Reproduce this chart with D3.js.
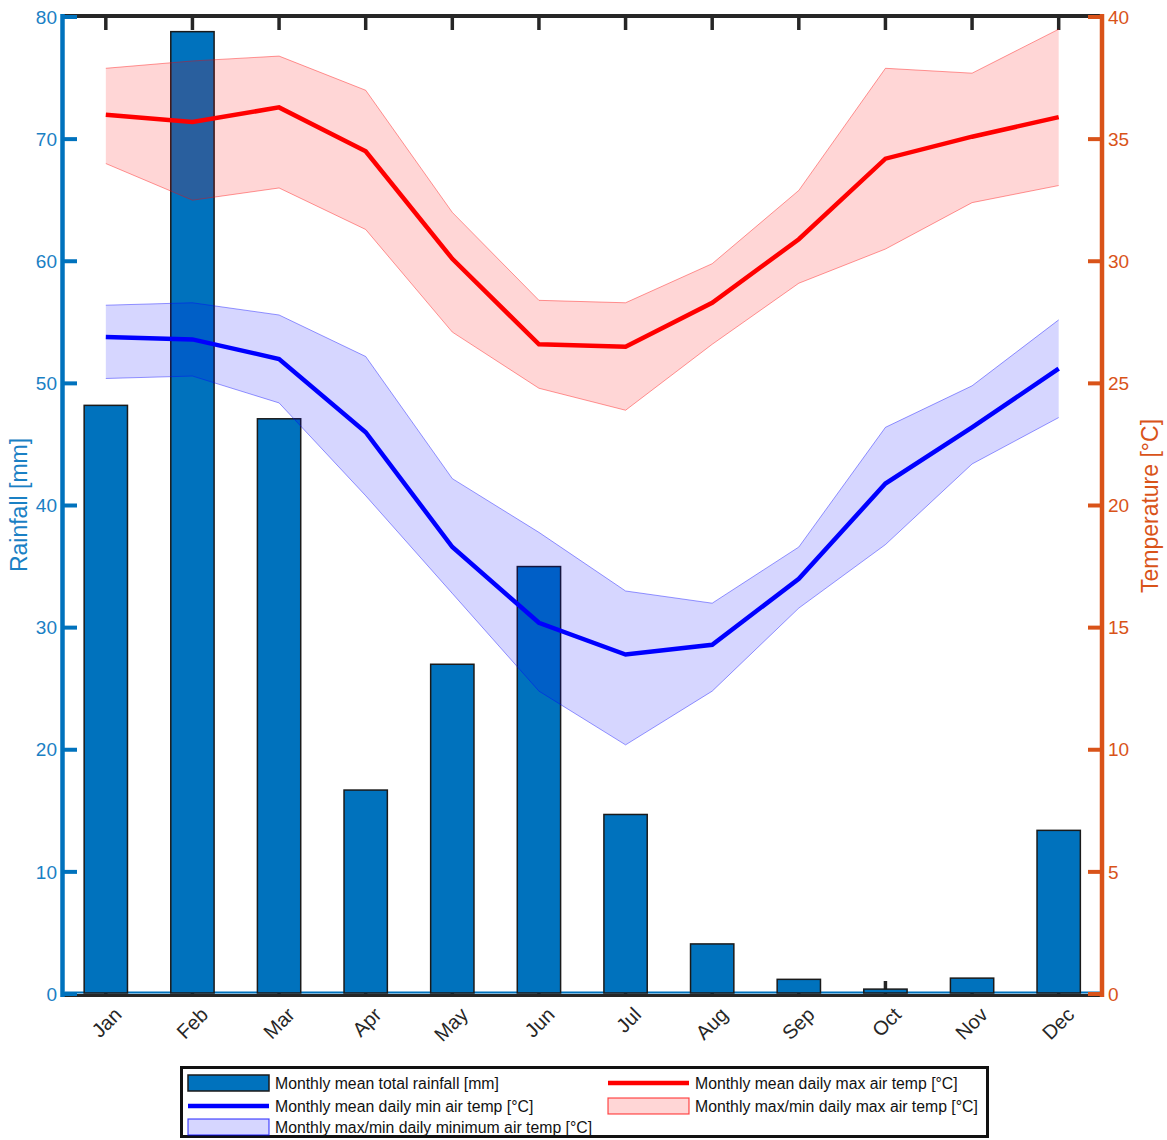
<!DOCTYPE html>
<html>
<head>
<meta charset="utf-8">
<script src="https://cdn.jsdelivr.net/npm/d3@7"></script>
<style>
  html, body { margin: 0; padding: 0; background: #fff; }
  svg { display: block; font-family: "Liberation Sans", Arial, Helvetica, sans-serif; }
</style>
</head>
<body>
<svg id="chart" width="1167" height="1140"></svg>
<script>
// Monthly climate summary: rainfall bars with daily max/min temperature bands
const months = ["Jan", "Feb", "Mar", "Apr", "May", "Jun", "Jul", "Aug", "Sep", "Oct", "Nov", "Dec"];
const rainfall = [48.2, 78.8, 47.1, 16.7, 27.0, 35.0, 14.7, 4.1, 1.2, 0.4, 1.3, 13.4];
const maxTempMean = [36.0, 35.7, 36.3, 34.5, 30.1, 26.6, 26.5, 28.3, 30.9, 34.2, 35.1, 35.9];
const maxTempHigh = [37.9, 38.2, 38.4, 37.0, 32.0, 28.4, 28.3, 29.9, 32.9, 37.9, 37.7, 39.5];
const maxTempLow  = [34.0, 32.5, 33.0, 31.3, 27.1, 24.8, 23.9, 26.6, 29.1, 30.5, 32.4, 33.1];
const minTempMean = [26.9, 26.8, 26.0, 23.0, 18.3, 15.2, 13.9, 14.3, 17.0, 20.9, 23.2, 25.6];
const minTempHigh = [28.2, 28.3, 27.8, 26.1, 21.1, 18.9, 16.5, 16.0, 18.3, 23.2, 24.9, 27.6];
const minTempLow  = [25.2, 25.3, 24.2, 20.4, 16.4, 12.4, 10.2, 12.4, 15.8, 18.4, 21.7, 23.6];
const rainTicks = [0, 10, 20, 30, 40, 50, 60, 70, 80];
const tempTicks = [0, 5, 10, 15, 20, 25, 30, 35, 40];

const legendItems = [
  { label: "Monthly mean total rainfall [mm]", kind: "bar" },
  { label: "Monthly mean daily max air temp [\u00B0C]", kind: "redLine" },
  { label: "Monthly mean daily min air temp [\u00B0C]", kind: "blueLine" },
  { label: "Monthly max/min daily max air temp [\u00B0C]", kind: "redBand" },
  { label: "Monthly max/min daily minimum air temp [\u00B0C]", kind: "blueBand" }
];

const C = {
  bar: "#0072BD",
  left: "#0072BD",
  leftText: "#1A80C4",
  right: "#D95319",
  axis: "#262626",
  red: "#FF0000",
  blue: "#0000FF"
};

const svg = d3.select("#chart");
const L = 62.5, R = 1102, T = 17, B = 994;

const x = d3.scaleLinear().domain([0.5, 12.5]).range([L, R]);
const yRain = d3.scaleLinear().domain([0, 80]).range([B, T]);
const yTemp = d3.scaleLinear().domain([0, 40]).range([B, T]);
const idx = months.map((m, i) => i + 1);

// top box edge and month ticks (drawn beneath the data)
const frame = svg.append("g");
frame.append("line").attr("x1", L).attr("x2", R).attr("y1", 16).attr("y2", 16)
  .attr("stroke", C.axis).attr("stroke-width", 4);
frame.append("line").attr("x1", L).attr("x2", R).attr("y1", 995.5).attr("y2", 995.5)
  .attr("stroke", C.axis).attr("stroke-width", 3);
frame.selectAll("line.ttick").data(idx).join("line").attr("class", "ttick")
  .attr("x1", d => x(d)).attr("x2", d => x(d)).attr("y1", 16).attr("y2", 30)
  .attr("stroke", C.axis).attr("stroke-width", 3.5);
frame.selectAll("line.btick").data(idx).join("line").attr("class", "btick")
  .attr("x1", d => x(d)).attr("x2", d => x(d)).attr("y1", 995).attr("y2", 981)
  .attr("stroke", C.axis).attr("stroke-width", 3.5);

// bar baseline
svg.append("line").attr("x1", L + 2).attr("x2", R - 2).attr("y1", 992.5).attr("y2", 992.5)
  .attr("stroke", C.bar).attr("stroke-width", 2);

// rainfall bars
const bw = (x(2) - x(1)) * 0.5;
svg.append("g").selectAll("rect").data(rainfall).join("rect")
  .attr("x", (d, i) => x(i + 1) - bw / 2)
  .attr("y", d => yRain(d))
  .attr("width", bw)
  .attr("height", d => yRain(0) - yRain(d) - 1)
  .attr("fill", C.bar)
  .attr("stroke", "#1a1a1a")
  .attr("stroke-width", 1.5);

// temperature bands
function band(hi, lo, color) {
  const area = d3.area()
    .x((d, i) => x(i + 1))
    .y0((d, i) => yTemp(lo[i]))
    .y1(d => yTemp(d));
  svg.append("path").datum(hi).attr("d", area)
    .attr("fill", color).attr("fill-opacity", 0.16);
  const edge = d3.line().x((d, i) => x(i + 1)).y(d => yTemp(d));
  [hi, lo].forEach(s => svg.append("path").datum(s).attr("d", edge)
    .attr("fill", "none").attr("stroke", color).attr("stroke-opacity", 0.4).attr("stroke-width", 1));
}
band(maxTempHigh, maxTempLow, C.red);
band(minTempHigh, minTempLow, C.blue);

// mean temperature lines
const tLine = d3.line().x((d, i) => x(i + 1)).y(d => yTemp(d));
svg.append("path").datum(maxTempMean).attr("d", tLine)
  .attr("fill", "none").attr("stroke", C.red).attr("stroke-width", 4.5);
svg.append("path").datum(minTempMean).attr("d", tLine)
  .attr("fill", "none").attr("stroke", C.blue).attr("stroke-width", 4.5);

// left axis (rainfall)
const leftAxis = svg.append("g");
leftAxis.append("line").attr("x1", L).attr("x2", L).attr("y1", 14).attr("y2", 997)
  .attr("stroke", C.left).attr("stroke-width", 4.5);
leftAxis.selectAll("line.tk").data(rainTicks).join("line").attr("class", "tk")
  .attr("x1", L).attr("x2", 77).attr("y1", d => yRain(d)).attr("y2", d => yRain(d))
  .attr("stroke", C.left).attr("stroke-width", 4);
leftAxis.selectAll("text").data(rainTicks).join("text")
  .attr("x", 57).attr("y", d => yRain(d)).attr("dy", "0.35em")
  .attr("text-anchor", "end").attr("font-size", 19).attr("fill", C.leftText)
  .text(d => d);
svg.append("text")
  .attr("transform", "translate(27,505) rotate(-90)")
  .attr("text-anchor", "middle").attr("font-size", 23).attr("fill", C.leftText)
  .text("Rainfall [mm]");

// right axis (temperature)
const rightAxis = svg.append("g");
rightAxis.append("line").attr("x1", R).attr("x2", R).attr("y1", 14).attr("y2", 997)
  .attr("stroke", C.right).attr("stroke-width", 4.5);
rightAxis.selectAll("line.tk").data(tempTicks).join("line").attr("class", "tk")
  .attr("x1", 1088).attr("x2", R).attr("y1", d => yTemp(d)).attr("y2", d => yTemp(d))
  .attr("stroke", C.right).attr("stroke-width", 4);
rightAxis.selectAll("text").data(tempTicks).join("text")
  .attr("x", 1108).attr("y", d => yTemp(d)).attr("dy", "0.35em")
  .attr("text-anchor", "start").attr("font-size", 19).attr("fill", C.right)
  .text(d => d);
svg.append("text")
  .attr("transform", "translate(1158,506) rotate(-90)")
  .attr("text-anchor", "middle").attr("font-size", 23).attr("fill", C.right)
  .text("Temperature [\u00B0C]");

// month labels
svg.append("g").selectAll("text").data(months).join("text")
  .attr("transform", (d, i) => `translate(${x(i + 1) + 12},${1011}) rotate(-45)`)
  .attr("text-anchor", "end").attr("dy", "0.35em")
  .attr("font-size", 20).attr("fill", C.axis)
  .text(d => d);

// legend
const lg = svg.append("g");
lg.append("rect").attr("x", 181.5).attr("y", 1067.5).attr("width", 806).attr("height", 69)
  .attr("fill", "#fff").attr("stroke", "#111").attr("stroke-width", 3);
const slots = [
  { sx: 188, ty: 1083 }, { sx: 608, ty: 1083 },
  { sx: 188, ty: 1106 }, { sx: 608, ty: 1106 },
  { sx: 188, ty: 1127 }
];
legendItems.forEach((it, i) => {
  const s = slots[i];
  const sw = 81, sh = 16;
  if (it.kind === "bar") {
    lg.append("rect").attr("x", s.sx).attr("y", s.ty - sh / 2).attr("width", sw).attr("height", sh)
      .attr("fill", C.bar).attr("stroke", "#1a1a1a").attr("stroke-width", 1.5);
  } else if (it.kind === "redLine" || it.kind === "blueLine") {
    lg.append("line").attr("x1", s.sx).attr("x2", s.sx + sw).attr("y1", s.ty).attr("y2", s.ty)
      .attr("stroke", it.kind === "redLine" ? C.red : C.blue).attr("stroke-width", 4.5);
  } else {
    const col = it.kind === "redBand" ? C.red : C.blue;
    lg.append("rect").attr("x", s.sx).attr("y", s.ty - sh / 2).attr("width", sw).attr("height", sh)
      .attr("fill", col).attr("fill-opacity", 0.16)
      .attr("stroke", col).attr("stroke-opacity", 0.7).attr("stroke-width", 1.2);
  }
  lg.append("text").attr("x", s.sx + sw + 6).attr("y", s.ty).attr("dy", "0.35em")
    .attr("font-size", 15.8).attr("fill", "#111").text(it.label);
});
</script>
</body>
</html>
